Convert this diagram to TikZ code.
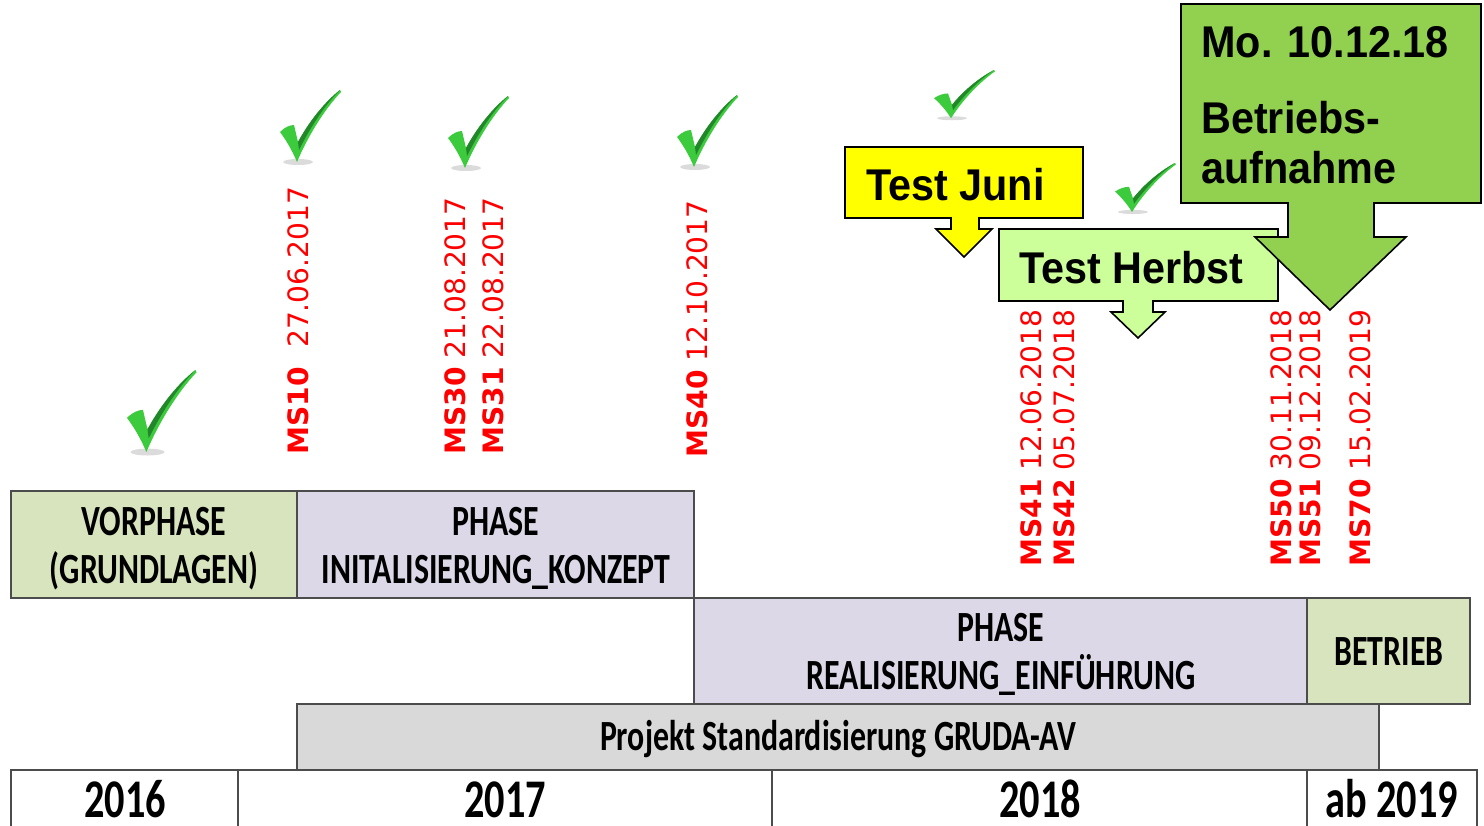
\documentclass[tikz,border=0pt]{standalone}
\usepackage{fontspec}
\setmainfont{Liberation Sans}
\newfontfamily\cfont[FakeStretch=0.74]{Carlito}
\newfontfamily\msfont{DejaVu Sans}
\newfontfamily\afont[FakeStretch=0.93]{Liberation Sans}

\definecolor{vorgruen}{HTML}{D7E4BD}
\definecolor{lila}{HTML}{DCD8E7}
\definecolor{projgrau}{HTML}{D9D9D9}
\definecolor{testgelb}{HTML}{FFFF00}
\definecolor{herbstgruen}{HTML}{CCFF99}
\definecolor{betriebgruen}{HTML}{92D050}
\definecolor{hakengruen}{HTML}{3CCB3C}
\definecolor{hakendunkel}{HTML}{23862A}

\tikzset{
  phase/.style={draw=black!70, line width=0.9pt},
  phasetext/.style={font=\cfont\bfseries\fontsize{24.5}{27}\selectfont, inner sep=0pt, anchor=base},
  yeartext/.style={font=\cfont\bfseries\fontsize{31}{34}\selectfont, inner sep=0pt, anchor=base},
  mstext/.style={font=\msfont\fontsize{16}{18}\selectfont, text=red, rotate=90, anchor=base west, inner sep=0pt},
  callout/.style={draw=black, line width=0.9pt, line join=miter},
  callouttext/.style={font=\afont\bfseries\fontsize{25.3}{28}\selectfont, anchor=base west, inner sep=0pt},
  pics/haken/.style={code={
    \fill[black!40, opacity=0.35] (18,72) ellipse [x radius=15, y radius=3];
    \fill[hakengruen] (0,42) .. controls (5,37) and (10,35) .. (14,35) -- (18,52)
      .. controls (30,30) and (45,12) .. (60,0) -- (61,2)
      .. controls (44,20) and (28,46) .. (17,72)
      .. controls (12,60) and (6,50) .. (0,42) -- cycle;
    \fill[hakendunkel] (18,52) .. controls (30,30) and (45,12) .. (60,0)
      .. controls (46,14) and (32,34) .. (19,60) -- cycle;
  }}
}

\begin{document}
\begin{tikzpicture}[x=0.02cm, y=-0.02cm]
  \useasboundingbox (0,0) rectangle (1484,825);

  % phases
  \path[phase, fill=vorgruen] (11,491) rectangle (297,598);
  \path[phase, fill=lila] (297,491) rectangle (694,598);
  \path[phase, fill=lila] (694,598) rectangle (1307,704);
  \path[phase, fill=vorgruen] (1307,598) rectangle (1470,704);
  \path[phase, fill=projgrau] (297,704) rectangle (1379,770);

  \node[phasetext] (vor1) at (154,535) {VORPHASE};
  \node[phasetext] (vor2) at (154,583) {(GRUNDLAGEN)};
  \node[phasetext] (ini1) at (496,535) {PHASE};
  \node[phasetext] (ini2) at (496,583) {INITALISIERUNG\_KONZEPT};
  \node[phasetext] (rea1) at (1001,641) {PHASE};
  \node[phasetext] (rea2) at (1001,689) {REALISIERUNG\_EINFÜHRUNG};
  \node[phasetext] (betr) at (1389,665) {BETRIEB};
  \node[phasetext] (proj) at (838,750) {Projekt Standardisierung GRUDA-AV};

  % years
  \draw[phase] (11,830) -- (11,770) -- (1477,770) -- (1477,830);
  \foreach \x in {238,772,1307}
    \draw[phase] (\x,770) -- (\x,830);
  \node[yeartext] (j16) at (125,817) {2016};
  \node[yeartext] (j17) at (505,817) {2017};
  \node[yeartext] (j18) at (1040,817) {2018};
  \node[yeartext] (j19) at (1392,817) {ab 2019};

  % milestones
  \node[mstext] (ms10) at (308,455) {\textbf{MS10}\hspace{6pt} 27.06.2017};
  \node[mstext] (ms30) at (465,455) {\textbf{MS30} 21.08.2017};
  \node[mstext] (ms31) at (503,455) {\textbf{MS31} 22.08.2017};
  \node[mstext] (ms40) at (707,458) {\textbf{MS40} 12.10.2017};
  \node[mstext] (ms41) at (1041,567) {\textbf{MS41} 12.06.2018};
  \node[mstext] (ms42) at (1074,567) {\textbf{MS42} 05.07.2018};
  \node[mstext] (ms50) at (1291,567) {\textbf{MS50} 30.11.2018};
  \node[mstext] (ms51) at (1320,567) {\textbf{MS51} 09.12.2018};
  \node[mstext] (ms70) at (1370,567) {\textbf{MS70} 15.02.2019};

  % ticks
  \pic[scale=1.14] at (127,370) {haken};
  \pic at (280,90) {haken};
  \pic at (448,96) {haken};
  \pic at (677,95) {haken};
  \pic[yscale=0.67] at (934,70) {haken};
  \pic[yscale=0.68] at (1115,163) {haken};

  % callouts
  \draw[callout, fill=testgelb] (845,147) -- (1083,147) -- (1083,218) -- (979,218)
    -- (979,229) -- (992,229) -- (964,257) -- (936,229) -- (951,229) -- (951,218)
    -- (845,218) -- cycle;
  \node[callouttext] (juni) at (866,200) {Test Juni};

  \draw[callout, fill=herbstgruen] (999,229) -- (1278,229) -- (1278,301) -- (1153,301)
    -- (1153,312) -- (1165,312) -- (1138,338) -- (1111,312) -- (1123,312) -- (1123,301)
    -- (999,301) -- cycle;
  \node[callouttext] (herbst) at (1019,283) {Test Herbst};

  \draw[callout, fill=betriebgruen] (1181,4) -- (1481,4) -- (1481,203) -- (1374,203)
    -- (1374,237) -- (1406,237) -- (1330,310) -- (1255,237) -- (1288,237) -- (1288,203)
    -- (1181,203) -- cycle;
  \node[callouttext] (datum) at (1201,57) {Mo. 10.12.18};
  \node[callouttext] (aufn1) at (1201,133) {Betriebs-};
  \node[callouttext] (aufn2) at (1201,183) {aufnahme};
\end{tikzpicture}
\end{document}
